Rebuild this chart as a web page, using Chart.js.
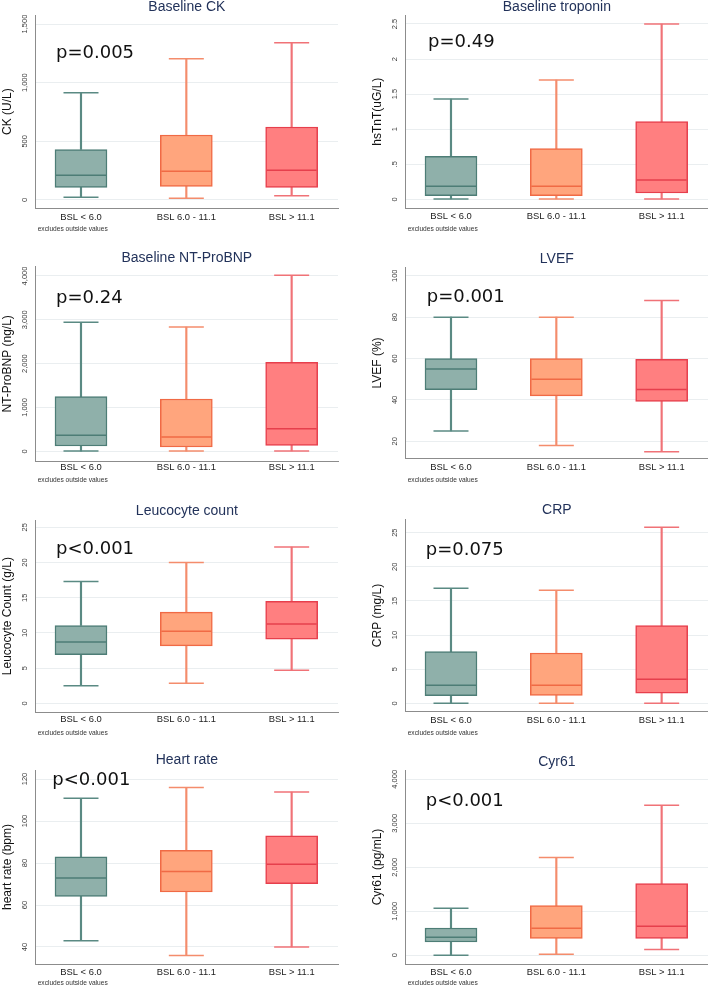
<!DOCTYPE html>
<html>
<head>
<meta charset="utf-8">
<script src="https://cdn.jsdelivr.net/npm/chart.js@4.4.1/dist/chart.umd.min.js"></script>
<style>
  html, body { margin: 0; padding: 0; background: #fff; overflow: hidden; }
  #page { position: relative; width: 708px; height: 987px; }
  #page canvas { position: absolute; }
</style>
</head>
<body>
<div id="page"></div>
<script>
// groups on the x axis
const groups = ['BSL < 6.0', 'BSL 6.0 - 11.1', 'BSL > 11.1'];
const groupPos = [1, 2, 3];

// box plot values: lower whisker, q1, median, q3, upper whisker
const ckLow = [23, 14, 37];
const ckQ1 = [108, 116, 108];
const ckMed = [210, 244, 253];
const ckQ3 = [430, 554, 622];
const ckHigh = [915, 1205, 1341];
const ckTicks = [0, 500, 1000, 1500];
const ckTickLabels = ['0', '500', '1,000', '1,500'];

const tnLow = [0.004, 0.004, 0.004];
const tnQ1 = [0.052, 0.052, 0.09];
const tnMed = [0.185, 0.185, 0.276];
const tnQ3 = [0.613, 0.722, 1.107];
const tnHigh = [1.43, 1.70, 2.50];
const tnTicks = [0, 0.5, 1, 1.5, 2, 2.5];
const tnTickLabels = ['0', '.5', '1', '1.5', '2', '2.5'];

const bnpLow = [5, 5, 10];
const bnpQ1 = [122, 99, 137];
const bnpMed = [365, 327, 517];
const bnpQ3 = [1247, 1194, 2030];
const bnpHigh = [2943, 2837, 4015];
const bnpTicks = [0, 1000, 2000, 3000, 4000];
const bnpTickLabels = ['0', '1,000', '2,000', '3,000', '4,000'];

const efLow = [25, 18, 15];
const efQ1 = [45, 42, 39.3];
const efMed = [55, 50, 45];
const efQ3 = [60, 60, 59.6];
const efHigh = [80, 80, 88];
const efTicks = [20, 40, 60, 80, 100];
const efTickLabels = ['20', '40', '60', '80', '100'];

const wbcLow = [2.5, 2.85, 4.7];
const wbcQ1 = [6.9, 8.15, 9.1];
const wbcMed = [8.7, 10.25, 11.25];
const wbcQ3 = [11.05, 12.95, 14.5];
const wbcHigh = [17.3, 20.0, 22.2];
const wbcTicks = [0, 5, 10, 15, 20, 25];
const wbcTickLabels = ['0', '5', '10', '15', '20', '25'];

const crpLow = [0.02, 0.02, 0.02];
const crpQ1 = [1.12, 1.17, 1.5];
const crpMed = [2.64, 2.64, 3.52];
const crpQ3 = [7.57, 7.37, 11.38];
const crpHigh = [16.85, 16.55, 25.8];
const crpTicks = [0, 5, 10, 15, 20, 25];
const crpTickLabels = ['0', '5', '10', '15', '20', '25'];

const hrLow = [43, 36, 40];
const hrQ1 = [64.1, 66.2, 70.2];
const hrMed = [72.9, 76, 79.4];
const hrQ3 = [82.9, 86, 93];
const hrHigh = [110.8, 116, 113.8];
const hrTicks = [40, 60, 80, 100, 120];
const hrTickLabels = ['40', '60', '80', '100', '120'];

const cyrLow = [3, 23, 129];
const cyrQ1 = [303, 386, 386];
const cyrMed = [409, 614, 659];
const cyrQ3 = [621, 1129, 1629];
const cyrHigh = [1068, 2220, 3409];
const cyrTicks = [0, 1000, 2000, 3000, 4000];
const cyrTickLabels = ['0', '1,000', '2,000', '3,000', '4,000'];

// colours
const boxFill = ['#8fb0aa', '#ffa57d', '#ff7f80'];
const boxLine = ['#4d7d76', '#f06a45', '#e63f4c'];
const whiskerLine = ['#5a8a83', '#f48c6c', '#f07277'];

const FONT = '"Liberation Sans", Arial, sans-serif';
Chart.defaults.font.family = FONT;

const panels = [
  { title: 'Baseline CK', ylab: 'CK (U/L)', p: 'p=0.005',
    low: ckLow, q1: ckQ1, med: ckMed, q3: ckQ3, high: ckHigh, ticks: ckTicks, tickLabels: ckTickLabels,
    x: 0, y: 0, h: 245, ax: 35.7, top: 15, bottom: 208.3, min: -71, max: 1577,
    ty: 7, px: 56, py: 58.3, lp: 3, ny: 229 },
  { title: 'Baseline troponin', ylab: 'hsTnT(uG/L)', p: 'p=0.49',
    low: tnLow, q1: tnQ1, med: tnMed, q3: tnQ3, high: tnHigh, ticks: tnTicks, tickLabels: tnTickLabels,
    x: 354, y: 0, h: 245, ax: 51.7, top: 15, bottom: 208.3, min: -0.128, max: 2.628,
    ty: 7, px: 74, py: 46.7, lp: 2.7, ny: 229 },
  { title: 'Baseline NT-ProBNP', ylab: 'NT-ProBNP (ng/L)', p: 'p=0.24',
    low: bnpLow, q1: bnpQ1, med: bnpMed, q3: bnpQ3, high: bnpHigh, ticks: bnpTicks, tickLabels: bnpTickLabels,
    x: 0, y: 245, h: 245, ax: 35.7, top: 21.7, bottom: 216, min: -221, max: 4212,
    ty: 13.5, px: 56, py: 58.3, lp: 1, ny: 235.3 },
  { title: 'LVEF', ylab: 'LVEF (%)', p: 'p=0.001',
    low: efLow, q1: efQ1, med: efMed, q3: efQ3, high: efHigh, ticks: efTicks, tickLabels: efTickLabels,
    x: 354, y: 245, h: 245, ax: 51.7, top: 22.7, bottom: 213.3, min: 11.8, max: 103.9,
    ty: 14, px: 72.7, py: 56.7, lp: 3.7, ny: 235.3 },
  { title: 'Leucocyte count', ylab: 'Leucocyte Count (g/L)', p: 'p<0.001',
    low: wbcLow, q1: wbcQ1, med: wbcMed, q3: wbcQ3, high: wbcHigh, ticks: wbcTicks, tickLabels: wbcTickLabels,
    x: 0, y: 490, h: 245, ax: 35.7, top: 30, bottom: 222.3, min: -1.28, max: 26.04,
    ty: 20.7, px: 56, py: 64, lp: 1.3, ny: 242.7 },
  { title: 'CRP', ylab: 'CRP (mg/L)', p: 'p=0.075',
    low: crpLow, q1: crpQ1, med: crpMed, q3: crpQ3, high: crpHigh, ticks: crpTicks, tickLabels: crpTickLabels,
    x: 354, y: 490, h: 245, ax: 51.7, top: 29.3, bottom: 221.7, min: -1.23, max: 26.96,
    ty: 20, px: 71.7, py: 65, lp: 2.6, ny: 242.7 },
  { title: 'Heart rate', ylab: 'heart rate (bpm)', p: 'p<0.001',
    low: hrLow, q1: hrQ1, med: hrMed, q3: hrQ3, high: hrHigh, ticks: hrTicks, tickLabels: hrTickLabels,
    x: 0, y: 735, h: 252, ax: 35.7, top: 35, bottom: 229, min: 31.9, max: 124.3,
    ty: 25, px: 52.3, py: 50, lp: 2.6, ny: 248.3 },
  { title: 'Cyr61', ylab: 'Cyr61 (pg/mL)', p: 'p<0.001',
    low: cyrLow, q1: cyrQ1, med: cyrMed, q3: cyrQ3, high: cyrHigh, ticks: cyrTicks, tickLabels: cyrTickLabels,
    x: 354, y: 735, h: 252, ax: 51.7, top: 35, bottom: 229, min: -198, max: 4211,
    ty: 27, px: 71.7, py: 70.7, lp: 2.6, ny: 248.3 }
];

const page = document.getElementById('page');

function pts(arr) {
  return arr.map((v, i) => ({ x: groupPos[i], y: v }));
}
function spans(a, b) {
  return a.map((v, i) => ({ x: groupPos[i], y: [v, b[i]] }));
}

function makePanel(p) {
  const canvas = document.createElement('canvas');
  canvas.width = 354;
  canvas.height = p.h;
  canvas.style.left = p.x + 'px';
  canvas.style.top = p.y + 'px';
  page.appendChild(canvas);

  // titles, p-value, rotated y tick labels, note
  const panelText = {
    id: 'panelText',
    afterDraw(chart) {
      const ctx = chart.ctx;
      const area = chart.chartArea;
      const ys = chart.scales.y;
      ctx.save();

      ctx.fillStyle = '#22325a';
      ctx.font = '14px ' + FONT;
      ctx.textAlign = 'center';
      ctx.textBaseline = 'middle';
      ctx.fillText(p.title, (area.left + area.right) / 2, p.ty);

      ctx.fillStyle = '#111';
      ctx.font = '18px "DejaVu Sans", sans-serif';
      ctx.textAlign = 'left';
      ctx.textBaseline = 'alphabetic';
      ctx.fillText(p.p, p.px, p.py);

      ctx.fillStyle = '#333';
      ctx.font = '6.6px ' + FONT;
      ctx.textBaseline = 'middle';
      ctx.fillText('excludes outside values', area.left + 2, p.ny);

      // y axis title
      ctx.save();
      ctx.translate(p.ax - 28, (area.top + area.bottom) / 2);
      ctx.rotate(-Math.PI / 2);
      ctx.fillStyle = '#111';
      ctx.font = '12px ' + FONT;
      ctx.textAlign = 'center';
      ctx.fillText(p.ylab, 0, 0);
      ctx.restore();

      // y tick labels
      ctx.fillStyle = '#3a3a3a';
      ctx.font = '7.5px ' + FONT;
      ctx.textAlign = 'center';
      p.ticks.forEach((v, i) => {
        ctx.save();
        ctx.translate(p.ax - 10.5, ys.getPixelForValue(v));
        ctx.rotate(-Math.PI / 2);
        ctx.fillText(p.tickLabels[i], 0, 0);
        ctx.restore();
      });
      ctx.restore();
    }
  };

  new Chart(canvas, {
    type: 'bar',
    data: {
      datasets: [
        { type: 'line', data: pts(p.med), showLine: false, pointStyle: 'line',
          pointRadius: 25, pointBorderWidth: 1.5, pointBorderColor: boxLine, order: 0 },
        { type: 'line', data: pts(p.high), showLine: false, pointStyle: 'line',
          pointRadius: 17.5, pointBorderWidth: 1.5, pointBorderColor: whiskerLine, order: 0 },
        { type: 'line', data: pts(p.low), showLine: false, pointStyle: 'line',
          pointRadius: 17.5, pointBorderWidth: 1.5, pointBorderColor: whiskerLine, order: 0 },
        { data: spans(p.q1, p.q3), backgroundColor: boxFill, borderColor: boxLine,
          borderWidth: 1.5, borderSkipped: false, grouped: false,
          barThickness: 52, maxBarThickness: 52, order: 1 },
        { data: spans(p.q3, p.high), backgroundColor: whiskerLine, borderWidth: 0,
          grouped: false, barThickness: 1.5, maxBarThickness: 1.5, order: 2 },
        { data: spans(p.low, p.q1), backgroundColor: whiskerLine, borderWidth: 0,
          grouped: false, barThickness: 1.5, maxBarThickness: 1.5, order: 2 }
      ]
    },
    options: {
      responsive: false,
      animation: false,
      events: [],
      layout: {
        autoPadding: false,
        padding: { left: 0, top: p.top, right: 354 - p.ax - 302.3, bottom: 0 }
      },
      plugins: { legend: { display: false }, tooltip: { enabled: false } },
      scales: {
        x: {
          type: 'linear', min: 0.57, max: 3.44, offset: false,
          afterBuildTicks: s => { s.ticks = groupPos.map(v => ({ value: v })); },
          afterFit: s => { s.height = p.h - p.bottom; },
          grid: { display: false, drawTicks: false, offset: false },
          border: { display: true, color: '#8c8c8c', width: 1 },
          ticks: {
            padding: p.lp, color: '#222', font: { size: 9.4 },
            maxRotation: 0, autoSkip: false,
            callback: v => groups[v - 1] || ''
          }
        },
        y: {
          type: 'linear', min: p.min, max: p.max,
          afterBuildTicks: s => { s.ticks = p.ticks.map(v => ({ value: v })); },
          afterFit: s => { s.width = p.ax; },
          grid: { color: '#eaeef0', lineWidth: 1, drawTicks: false },
          border: { color: '#8c8c8c', width: 1 },
          ticks: { display: false }
        }
      }
    },
    plugins: [panelText]
  });
}

panels.forEach(makePanel);
</script>
</body>
</html>
